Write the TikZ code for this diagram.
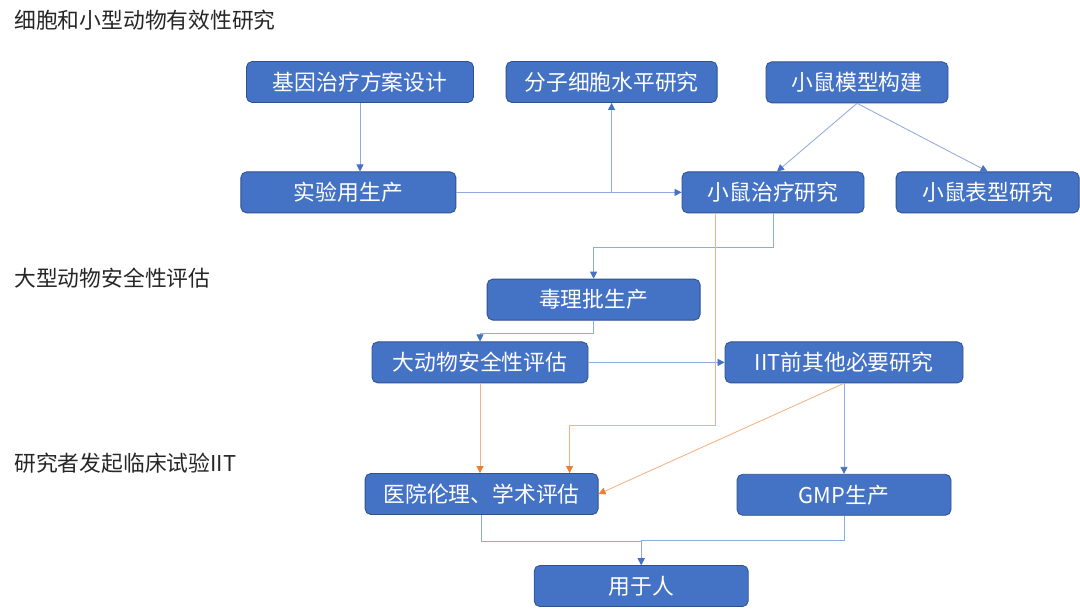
\documentclass[tikz,border=0pt]{standalone}
\usepackage{fontspec}
\setmainfont{Noto Sans CJK SC}
\usetikzlibrary{arrows.meta}
\definecolor{boxblue}{RGB}{68,114,196}
\definecolor{boxedge}{RGB}{47,82,143}
\definecolor{lineblue}{RGB}{143,170,220}
\definecolor{lineorange}{RGB}{244,177,131}
\definecolor{tiporange}{RGB}{237,125,49}
\tikzset{
  stepbox/.style={draw=boxedge,fill=boxblue,text=white,rounded corners=4pt,
    minimum height=1.025cm,inner sep=0pt,font=\fontsize{15.5}{18}\selectfont,line width=0.6pt},
  bluelink/.style={draw=lineblue,line width=0.6pt,-{Triangle[length=5pt,width=5pt,color=boxblue]}},
  orangelink/.style={draw=lineorange,line width=0.6pt,-{Triangle[length=5pt,width=5pt,color=tiporange]}},
  stage/.style={anchor=west,inner sep=0pt,text=black!85,font=\fontsize{15.5}{18}\selectfont}
}
\begin{document}
\begin{tikzpicture}
      \useasboundingbox (0,0) rectangle (27,15.3);
      \node[stage] (effect) at (.35,14.8) {细胞和小型动物有效性研究};
      \node[stage] (safety) at (.35,8.35) {大型动物安全性评估};
      \node[stage] (clinic) at (.35,3.725) {研究者发起临床试验IIT};
      \node[stepbox,minimum width=5.675cm] (gene) at (9,13.25) {基因治疗方案设计};
      \node[stepbox,minimum width=5.275cm] (mol) at (15.29,13.25) {分子细胞水平研究};
      \node[stepbox,minimum width=4.55cm] (model) at (21.425,13.24) {小鼠模型构建};
      \node[stepbox,minimum width=5.375cm] (prod) at (8.71,10.49) {实验用生产};
      \node[stepbox,minimum width=4.55cm] (treat) at (19.325,10.49) {小鼠治疗研究};
      \node[stepbox,minimum width=4.575cm] (pheno) at (24.69,10.49) {小鼠表型研究};
      \node[stepbox,minimum width=5.325cm] (tox) at (14.84,7.81) {毒理批生产};
      \node[stepbox,minimum width=5.4cm] (big) at (12,6.24) {大动物安全性评估};
      \node[stepbox,minimum width=5.95cm] (iit) at (21.1,6.24) {IIT前其他必要研究};
      \node[stepbox,minimum width=5.825cm] (hosp) at (12.04,2.95) {医院伦理、学术评估};
      \node[stepbox,minimum width=5.35cm] (gmp) at (21.1,2.93) {GMP生产};
      \node[stepbox,minimum width=5.35cm] (human) at (16.03,.65) {用于人};
      % top row
      \draw[bluelink] (gene.south) -- (gene.south |- prod.north);
      \draw[bluelink] (prod.east) -- (treat.west);
      \draw[bluelink] (mol.south |- prod.east) -- (mol.south);
      \draw[bluelink] (model.south) -- ([xshift=.1cm]treat.north);
      \draw[bluelink] (model.south) -- (pheno.north);
      % large animals
      \draw[bluelink] (treat.south) -- ++(0,-.85) -| (tox.north);
      \draw[bluelink] (tox.south) -- ++(0,-.325) -| (big.north);
      \draw[bluelink] (big.east) -- (iit.west);
      \draw[orangelink] ([xshift=.85cm]treat.south west) -- ++(0,-5.3) -| ([xshift=2.2cm]hosp.north);
      \draw[orangelink] (big.south) -- (big.south |- hosp.north);
      \draw[orangelink] (iit.south) -- (hosp.east);
      \draw[bluelink] (iit.south) -- (gmp.north);
      % clinic
      \draw[bluelink] (hosp.south) -- ++(0,-.65) -| (human.north);
      \draw[bluelink] (gmp.south) -- ++(0,-.625) -| (human.north);
    \end{tikzpicture}
\end{document}
